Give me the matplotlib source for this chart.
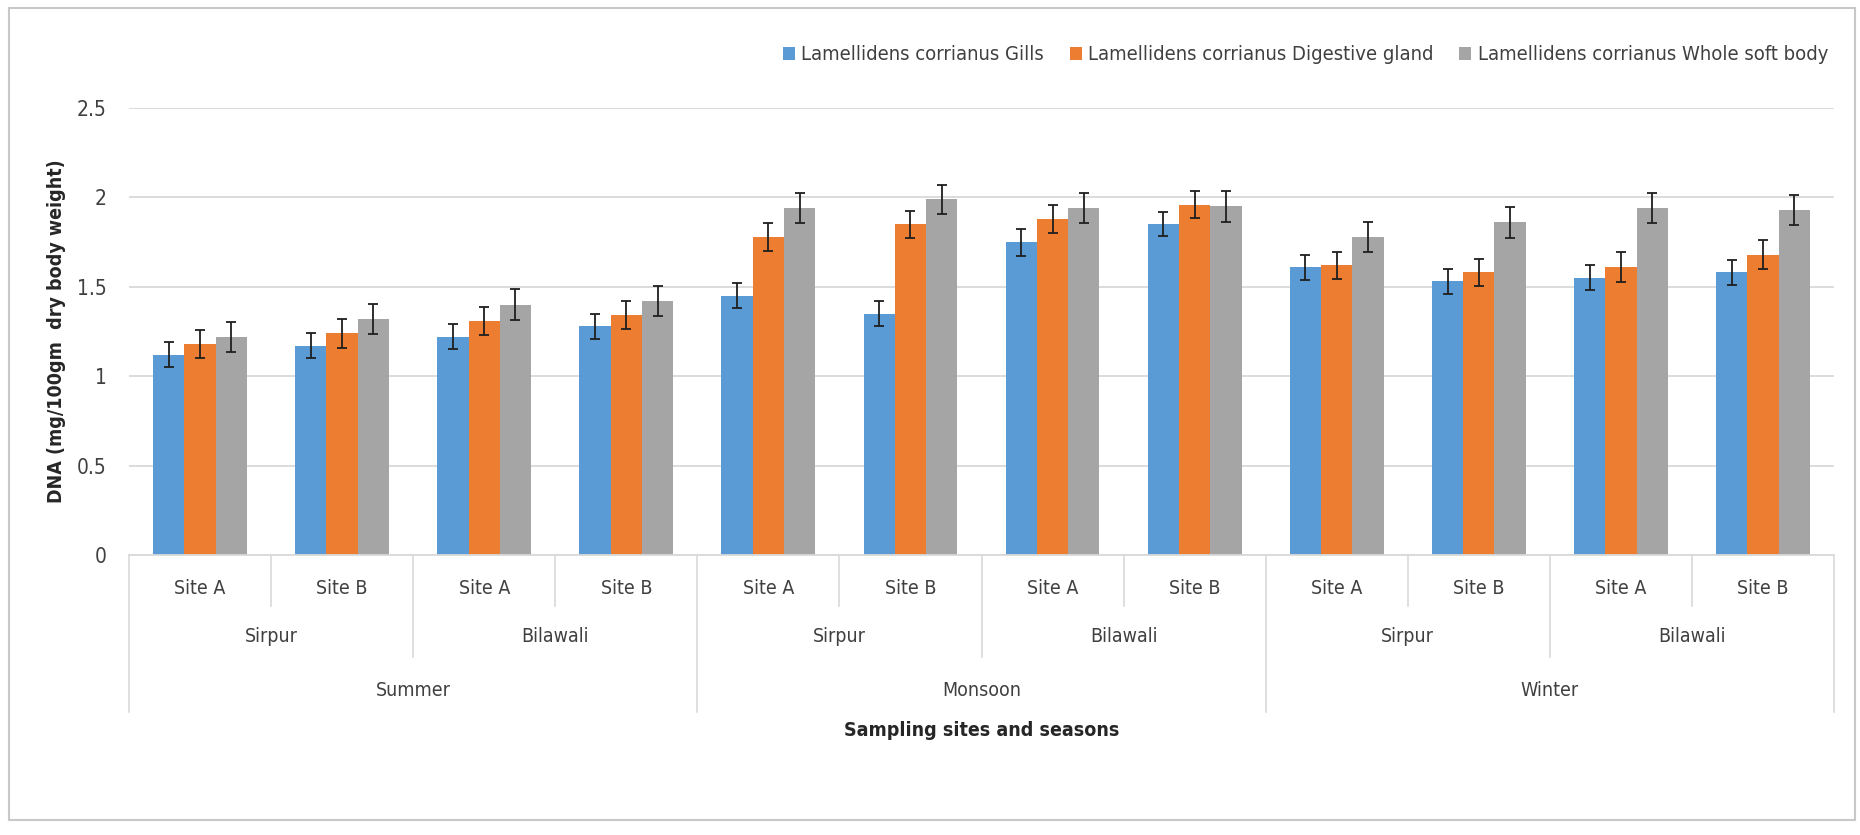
import numpy as np
import matplotlib
matplotlib.use('Agg')
import matplotlib.pyplot as plt
from matplotlib.patches import Rectangle, Patch

plt.rcParams['font.family'] = ['DejaVu Sans']
plt.rcParams['font.stretch'] = 'condensed'

sites = ['Site A', 'Site B'] * 6
places = ['Sirpur', 'Bilawali'] * 3
seasons = ['Summer', 'Monsoon', 'Winter']

series_names = ['Lamellidens corrianus Gills',
                'Lamellidens corrianus Digestive gland',
                'Lamellidens corrianus Whole soft body']

gills = [1.12, 1.17, 1.22, 1.28, 1.45, 1.35, 1.75, 1.85, 1.61, 1.53, 1.55, 1.58]
digestive = [1.18, 1.24, 1.31, 1.34, 1.78, 1.85, 1.88, 1.96, 1.62, 1.58, 1.61, 1.68]
whole_body = [1.22, 1.32, 1.40, 1.42, 1.94, 1.99, 1.94, 1.95, 1.78, 1.86, 1.94, 1.93]

gills_err = [0.07, 0.07, 0.07, 0.07, 0.07, 0.07, 0.075, 0.067, 0.07, 0.07, 0.07, 0.07]
digestive_err = [0.077, 0.08, 0.078, 0.078, 0.077, 0.075, 0.078, 0.078, 0.077, 0.077, 0.085, 0.079]
whole_err = [0.085, 0.085, 0.086, 0.086, 0.085, 0.082, 0.082, 0.085, 0.085, 0.085, 0.085, 0.084]

colors = ['#5B9BD5', '#ED7D31', '#A5A5A5']

W, H = 1860, 835
fig = plt.figure(figsize=(W / 100, H / 100), dpi=100)

# plot area in pixels
left, right, top, bottom = 129, 1834, 108, 555
ax = fig.add_axes([left / W, (H - bottom) / H, (right - left) / W, (bottom - top) / H])

x = np.arange(len(sites))
bw = 0.22
data = [gills, digestive, whole_body]
errs = [gills_err, digestive_err, whole_err]
for i in range(3):
    ax.bar(x + (i - 1) * bw, data[i], bw, color=colors[i], zorder=2)
    ax.errorbar(x + (i - 1) * bw, data[i], yerr=errs[i], fmt='none',
                ecolor='#1f1f1f', elinewidth=1.3, capsize=3.5, capthick=1.3, zorder=3)

ax.set_xlim(-0.5, len(sites) - 0.5)
ax.set_ylim(0, 2.5)
ax.set_yticks([0, 0.5, 1, 1.5, 2, 2.5])
ax.set_yticklabels(['0', '0.5', '1', '1.5', '2', '2.5'], fontsize=15, color='#404040')
ax.tick_params(axis='y', length=0, pad=16)
ax.set_xticks([])
ax.yaxis.grid(True, color='#D9D9D9', linewidth=1.3, zorder=0)
ax.set_axisbelow(True)
for s in ['left', 'right', 'top']:
    ax.spines[s].set_visible(False)
ax.spines['bottom'].set_color('#D9D9D9')
ax.spines['bottom'].set_linewidth(1.3)

ax.set_ylabel('DNA (mg/100gm  dry body weight)', fontsize=14, fontweight='bold',
              color='#262626', labelpad=8)

# hierarchical category labels under the axis
tr = ax.get_xaxis_transform()
ph = bottom - top
def fy(px):
    return (bottom - px) / ph

for i, s in enumerate(sites):
    ax.text(i, fy(588), s, transform=tr, ha='center', va='center',
            fontsize=14, color='#404040')
for j, p in enumerate(places):
    ax.text(2 * j + 0.5, fy(637), p, transform=tr, ha='center', va='center',
            fontsize=14, color='#404040')
for k, s in enumerate(seasons):
    ax.text(4 * k + 1.5, fy(691), s, transform=tr, ha='center', va='center',
            fontsize=14, color='#404040')

for b in np.arange(-0.5, len(sites), 1.0):
    n = int(b + 0.5)
    if n % 4 == 0:
        end = 712
    elif n % 2 == 0:
        end = 657
    else:
        end = 606
    ax.plot([b, b], [0, fy(end)], transform=tr, color='#D9D9D9',
            linewidth=1.2, clip_on=False)

ax.text(0.5, fy(730), 'Sampling sites and seasons', transform=ax.transAxes,
        ha='center', va='center', fontsize=14, fontweight='bold', color='#262626')

handles = [Patch(facecolor=c) for c in colors]
fig.legend(handles, series_names, loc='center right', ncol=3,
           bbox_to_anchor=(1828 / W, (H - 55) / H), frameon=False,
           fontsize=14.5, handlelength=0.6, handleheight=0.6,
           handletextpad=0.3, columnspacing=1.3, labelcolor='#404040',
           borderaxespad=0, borderpad=0)

fig.patches.append(Rectangle((9 / W, (H - 820) / H), (1855 - 9) / W, (820 - 8) / H,
                             transform=fig.transFigure, fill=False,
                             edgecolor='#C8C8C8', linewidth=1.5))

fig.savefig('out.png', dpi=100, facecolor='white')
